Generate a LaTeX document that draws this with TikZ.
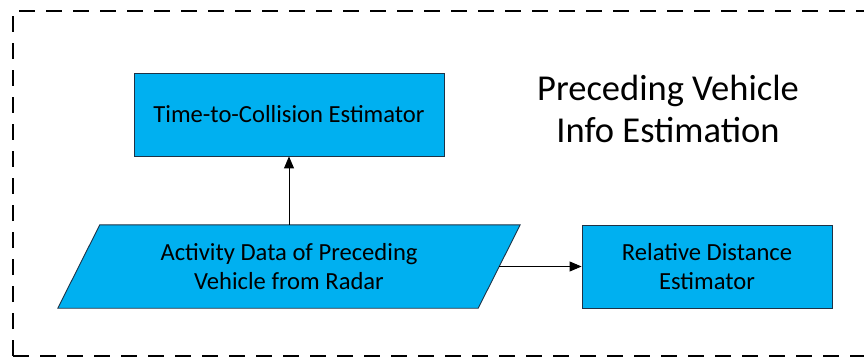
\documentclass[tikz,border=0pt]{standalone}
\usepackage{fontspec}
\setmainfont{Carlito}
\usetikzlibrary{arrows.meta,backgrounds}
\definecolor{boxfill}{RGB}{0,176,240}
\definecolor{boxline}{RGB}{30,50,70}
\tikzset{
  procbox/.style={draw=boxline, line width=0.9pt, fill=boxfill, align=center, font=\fontsize{24.6}{29}\selectfont, inner sep=0pt},
  iobox/.style={align=center, font=\fontsize{24.6}{29}\selectfont, inner sep=0pt, minimum width=420pt, minimum height=83pt},
  conn/.style={line width=0.9pt, -{Triangle[length=12pt,width=10pt]}},
  frame/.style={line width=2pt, dash pattern=on 16pt off 11pt}
}
\begin{document}
\begin{tikzpicture}[x=1pt,y=-1pt]
\useasboundingbox (0,0) rectangle (864,358);
\draw[frame] (13,356) -- (13,11) -- (880,11);
\draw[frame] (13,356) -- (880,356);
\node[procbox, minimum width=310pt, minimum height=83pt] (ttc) at (289,114.5) {Time-to-Collision Estimator};
\node[iobox] (act) at (289,266.5) {Activity Data of Preceding\\Vehicle from Radar};
\begin{scope}[on background layer]
\draw[draw=boxline, line width=0.9pt, fill=boxfill]
  ([xshift=21pt]act.north west) -- ([xshift=21pt]act.north east) --
  ([xshift=-21pt]act.south east) -- ([xshift=-21pt]act.south west) -- cycle;
\end{scope}
\node[procbox, minimum width=250pt, minimum height=83pt] (rde) at (707,266.5) {Relative Distance\\Estimator};
\node[align=center, font=\fontsize{36.5}{42}\selectfont, inner sep=0pt] (title) at (668,109) {Preceding Vehicle\\Info Estimation};
\draw[conn] (act.north) -- (ttc.south);
\draw[conn] (act.east) -- (rde.west);
\end{tikzpicture}
\end{document}
